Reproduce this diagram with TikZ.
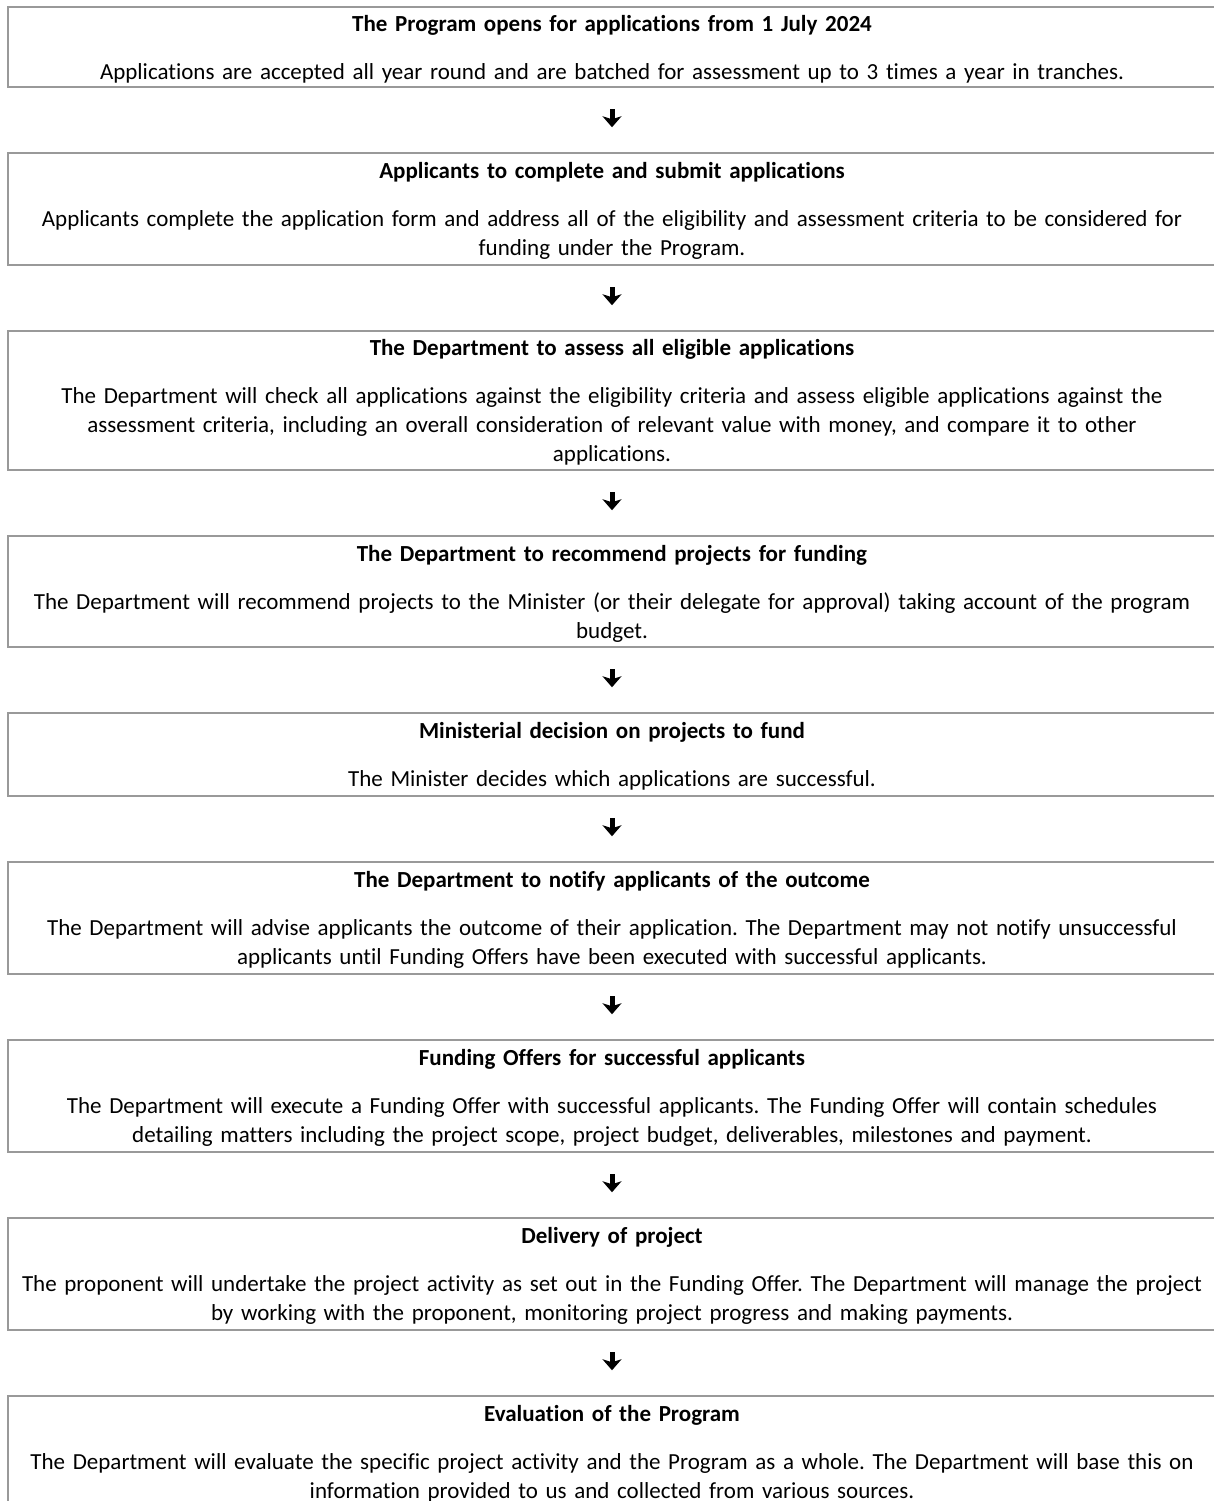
\documentclass[tikz,border=0pt]{standalone}
\usepackage{fontspec}
\setmainfont{Carlito}[Ligatures=NoCommon]
\usetikzlibrary{arrows.meta}
\frenchspacing
\newcommand{\steptitle}[1]{\rule{0pt}{11.8pt}\textbf{#1}\\[9.5pt]}
\newcommand{\stepend}{\rule[-3.4pt]{0pt}{3.4pt}}
\begin{document}
\begin{tikzpicture}[x=0.5pt, y=-0.5pt,
  stepbox/.style={draw=black!40, line width=0.75pt, minimum width=604pt, text width=604pt,
    inner xsep=0pt, inner ysep=0pt, align=center, font=\fontsize{11.5pt}{14.5pt}\selectfont},
  flow/.style={-{Stealth[width=9.5pt, length=5.5pt, inset=1.5pt]}, line width=2.5pt,
    shorten <=10.8pt, shorten >=12.5pt}]
\useasboundingbox (0,0) rectangle (1214,1501);
\node[stepbox, minimum height=40pt] (open) at (612,47) {\steptitle{The Program opens for applications from 1 July 2024}
  Applications are accepted all year round and are batched for assessment up to 3 times a year in tranches.\stepend};
\node[stepbox, minimum height=56pt] (submit) at (612,209) {\steptitle{Applicants to complete and submit applications}
  Applicants complete the application form and address all of the eligibility and assessment criteria to be considered for\\
  funding under the Program.\stepend};
\node[stepbox, minimum height=69.5pt] (assess) at (612,400.5) {\steptitle{The Department to assess all eligible applications}
  The Department will check all applications against the eligibility criteria and assess eligible applications against the\\
  assessment criteria, including an overall consideration of relevant value with money, and compare it to other\\
  applications.\stepend};
\node[stepbox, minimum height=55.5pt] (recommend) at (612,591.5) {\steptitle{The Department to recommend projects for funding}
  The Department will recommend projects to the Minister (or their delegate for approval) taking account of the program\\
  budget.\stepend};
\node[stepbox, minimum height=41.5pt] (decide) at (612,754.5) {\steptitle{Ministerial decision on projects to fund}
  The Minister decides which applications are successful.\stepend};
\node[stepbox, minimum height=56pt] (notify) at (612,918) {\steptitle{The Department to notify applicants of the outcome}
  The Department will advise applicants the outcome of their application. The Department may not notify unsuccessful\\
  applicants until Funding Offers have been executed with successful applicants.\stepend};
\node[stepbox, minimum height=56pt] (offer) at (612,1096) {\steptitle{Funding Offers for successful applicants}
  The Department will execute a Funding Offer with successful applicants. The Funding Offer will contain schedules\\
  detailing matters including the project scope, project budget, deliverables, milestones and payment.\stepend};
\node[stepbox, minimum height=56pt] (deliver) at (612,1274) {\steptitle{Delivery of project}
  The proponent will undertake the project activity as set out in the Funding Offer. The Department will manage the project\\
  by working with the proponent, monitoring project progress and making payments.\stepend};
\node[stepbox, minimum height=56pt] (evaluate) at (612,1452) {\steptitle{Evaluation of the Program}
  The Department will evaluate the specific project activity and the Program as a whole. The Department will base this on\\
  information provided to us and collected from various sources.\stepend};
\draw[flow] (open) -- (submit);
\draw[flow] (submit) -- (assess);
\draw[flow] (assess) -- (recommend);
\draw[flow] (recommend) -- (decide);
\draw[flow] (decide) -- (notify);
\draw[flow] (notify) -- (offer);
\draw[flow] (offer) -- (deliver);
\draw[flow] (deliver) -- (evaluate);
\end{tikzpicture}
\end{document}
